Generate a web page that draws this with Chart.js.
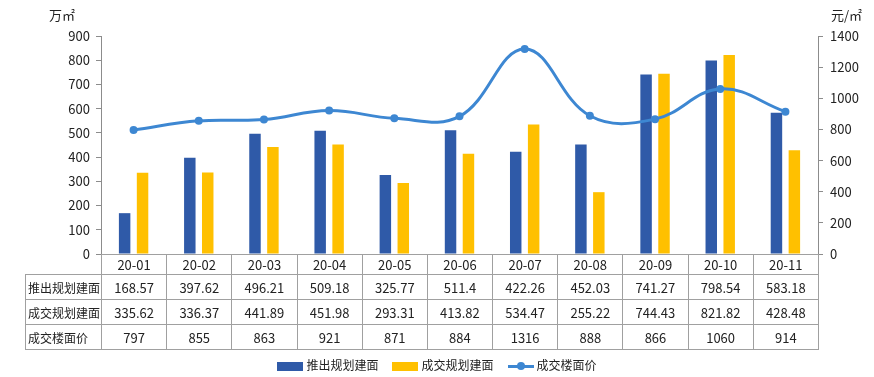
<!DOCTYPE html>
<html>
<head>
<meta charset="utf-8">
<script src="https://cdn.jsdelivr.net/npm/chart.js@4"></script>
<style>
  html, body { margin: 0; padding: 0; background: #fff; }
  body { width: 874px; height: 377px; position: relative; overflow: hidden;
         font-family: "Noto Sans CJK SC", "Noto Sans", sans-serif; color: #222; }
  #wrap { position: absolute; left: 0; top: 0; width: 874px; height: 377px; }
  .unit { position: absolute; top: 5px; font-size: 13px; }
  #dataTable { position: absolute; border-collapse: collapse; font-size: 13px; table-layout: fixed; }
  #dataTable td { border: 1px solid #a0a0a0; text-align: center; padding: 0; white-space: nowrap; overflow: hidden; }
  #dataTable td.lbl { text-align: left; padding-left: 2px; font-size: 12px; }
  #dataTable td.blank { border: none; }
  #legend { position: absolute; top: 354px; left: 0; width: 874px; text-align: center; font-size: 12px; }
  #legend span.item { display: inline-block; margin: 0 7px; vertical-align: middle; }
  #legend i { display: inline-block; vertical-align: middle; margin-right: 3px; position: relative; }
</style>
</head>
<body>
<div id="wrap"><canvas id="combo" width="874" height="377"></canvas></div>
<div class="unit" style="left:49px">万㎡</div>
<div class="unit" style="left:831px">元/㎡</div>
<table id="dataTable"></table>
<div id="legend"></div>
<script>
const months = ['20-01', '20-02', '20-03', '20-04', '20-05', '20-06', '20-07', '20-08', '20-09', '20-10', '20-11'];
const launched = [168.57, 397.62, 496.21, 509.18, 325.77, 511.4, 422.26, 452.03, 741.27, 798.54, 583.18];
const sold = [335.62, 336.37, 441.89, 451.98, 293.31, 413.82, 534.47, 255.22, 744.43, 821.82, 428.48];
const price = [797, 855, 863, 921, 871, 884, 1316, 888, 866, 1060, 914];

const names = ['推出规划建面', '成交规划建面', '成交楼面价'];
const colors = ['#2f5aa8', '#ffc000', '#3d87d2'];
const axisGrey = '#8c8c8c';
const tickFont = { family: '"Noto Sans CJK SC", "Noto Sans", sans-serif', size: 13 };

// table + legend follow the chart's own x scale
const tablePlugin = {
  id: 'tablePlugin',
  afterRender(chart) {
    const area = chart.chartArea;
    const table = document.getElementById('dataTable');
    if (table.dataset.done) return;
    table.dataset.done = '1';
    const colW = (area.right - area.left) / months.length;
    const labelW = 76;
    table.style.left = (area.left - labelW) + 'px';
    table.style.top = area.bottom + 'px';
    table.style.width = (labelW + colW * months.length) + 'px';

    let html = '<colgroup><col style="width:' + labelW + 'px">';
    months.forEach(() => { html += '<col style="width:' + colW + 'px">'; });
    html += '</colgroup>';
    html += '<tr style="height:19px"><td class="blank"></td>';
    months.forEach(m => { html += '<td>' + m + '</td>'; });
    html += '</tr>';
    [launched, sold, price].forEach((row, r) => {
      html += '<tr style="height:25px"><td class="lbl">' + names[r] + '</td>';
      row.forEach(v => { html += '<td>' + v + '</td>'; });
      html += '</tr>';
    });
    table.innerHTML = html;

    const legend = document.getElementById('legend');
    legend.innerHTML =
      '<span class="item"><i style="width:26px;height:9px;background:' + colors[0] + '"></i>' + names[0] + '</span>' +
      '<span class="item"><i style="width:26px;height:9px;background:' + colors[1] + '"></i>' + names[1] + '</span>' +
      '<span class="item"><i style="width:26px;height:3px;background:' + colors[2] + '">' +
      '<b style="position:absolute;left:9px;top:-3px;width:8px;height:8px;border-radius:50%;background:' + colors[2] + '"></b></i>' + names[2] + '</span>';
  }
};

new Chart(document.getElementById('combo'), {
  data: {
    labels: months,
    datasets: [
      {
        type: 'line',
        label: names[2],
        data: price,
        yAxisID: 'y1',
        borderColor: colors[2],
        backgroundColor: colors[2],
        borderWidth: 3,
        pointRadius: 4,
        pointBackgroundColor: colors[2],
        pointBorderWidth: 0,
        tension: 0.4,
        order: 0
      },
      {
        type: 'bar',
        label: names[0],
        data: launched,
        yAxisID: 'y',
        backgroundColor: colors[0],
        barPercentage: 0.64,
        categoryPercentage: 0.55,
        order: 1
      },
      {
        type: 'bar',
        label: names[1],
        data: sold,
        yAxisID: 'y',
        backgroundColor: colors[1],
        barPercentage: 0.64,
        categoryPercentage: 0.55,
        order: 1
      }
    ]
  },
  options: {
    responsive: false,
    animation: false,
    layout: { padding: { top: 36, bottom: 123, left: 0, right: 0 } },
    plugins: {
      legend: { display: false },
      tooltip: { enabled: false }
    },
    scales: {
      x: {
        display: false
      },
      y: {
        position: 'left',
        min: 0,
        max: 900,
        ticks: { stepSize: 100, color: '#222', font: tickFont, padding: 6, callback: v => String(v) },
        grid: { drawOnChartArea: false, tickLength: 5, color: axisGrey },
        border: { color: axisGrey },
        afterFit(scale) { scale.width = 101; }
      },
      y1: {
        position: 'right',
        min: 0,
        max: 1400,
        ticks: { stepSize: 200, color: '#222', font: tickFont, padding: 7, callback: v => String(v) },
        grid: { drawOnChartArea: false, tickLength: 5, color: axisGrey },
        border: { color: axisGrey },
        afterFit(scale) { scale.width = 56; }
      }
    }
  },
  plugins: [tablePlugin]
});
</script>
</body>
</html>
